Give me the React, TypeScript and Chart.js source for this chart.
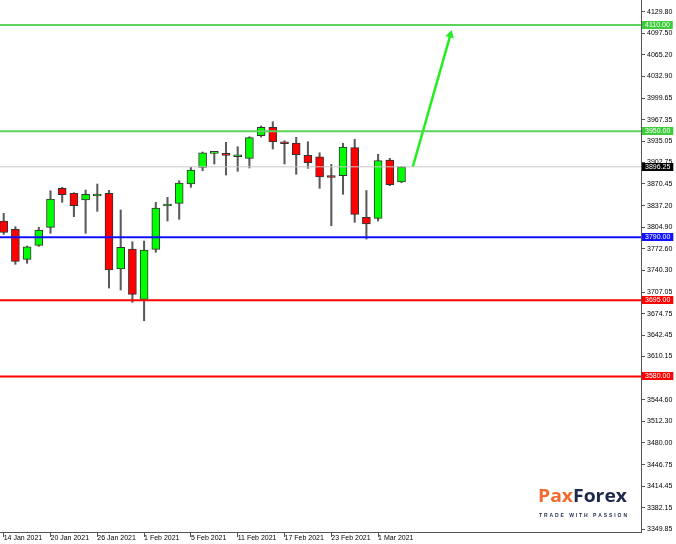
import React, { useEffect, useRef } from "react";
import { Chart, registerables } from "chart.js";
Chart.register(...registerables);

const dates = ["14 Jan 2021","15 Jan 2021","18 Jan 2021","19 Jan 2021","20 Jan 2021","21 Jan 2021","22 Jan 2021","25 Jan 2021","26 Jan 2021","27 Jan 2021","28 Jan 2021","29 Jan 2021","1 Feb 2021","2 Feb 2021","3 Feb 2021","4 Feb 2021","5 Feb 2021","8 Feb 2021","9 Feb 2021","10 Feb 2021","11 Feb 2021","12 Feb 2021","15 Feb 2021","16 Feb 2021","17 Feb 2021","18 Feb 2021","19 Feb 2021","22 Feb 2021","23 Feb 2021","24 Feb 2021","25 Feb 2021","26 Feb 2021","1 Mar 2021","2 Mar 2021","3 Mar 2021"];

const opens = [3814.5,3802.0,3756.7,3777.8,3805.0,3863.8,3856.3,3846.2,3852.2,3856.3,3742.1,3772.3,3696.4,3771.8,3837.1,3841.2,3870.3,3895.5,3916.6,3916.6,3911.5,3909.1,3943.2,3955.9,3933.7,3932.2,3913.6,3911.5,3883.1,3882.8,3925.1,3820.1,3818.6,3906.5,3873.3];
const highs = [3826.1,3805.9,3776.8,3805.0,3860.2,3865.3,3857.2,3861.3,3870.3,3860.8,3831.1,3783.3,3784.3,3842.7,3850.3,3875.3,3895.5,3918.6,3917.5,3933.2,3926.6,3941.7,3957.8,3964.3,3935.6,3940.8,3934.1,3917.5,3900.0,3931.7,3937.8,3860.5,3915.1,3909.1,3896.4];
const lows = [3794.4,3749.2,3750.7,3776.3,3795.9,3842.7,3821.0,3795.9,3829.1,3713.4,3710.4,3691.8,3664.1,3767.3,3814.5,3817.1,3865.3,3890.4,3900.5,3883.9,3889.5,3894.5,3941.2,3923.1,3900.5,3885.0,3894.0,3863.8,3807.4,3854.8,3812.5,3787.3,3814.5,3867.8,3872.3];
const closes = [3797.2,3753.7,3775.7,3800.9,3847.7,3854.2,3837.6,3854.8,3854.2,3740.6,3774.8,3703.9,3770.7,3834.1,3840.1,3871.8,3891.4,3917.5,3917.1,3913.6,3911.8,3940.2,3955.9,3934.1,3931.1,3914.5,3902.5,3880.9,3880.1,3926.1,3824.6,3810.0,3905.5,3869.3,3896.25];

const resistanceLevels = [4110.0, 3950.0];
const pivotLevels = [3790.0];
const supportLevels = [3695.0, 3580.0];
const currentPrice = 3896.25;

const xTickIndices = [0, 4, 8, 12, 16, 20, 24, 28, 32];
const yTickValues = [4129.80,4097.50,4065.20,4032.90,3999.65,3967.35,3935.05,3902.75,3870.45,3837.20,3804.90,3772.60,3740.30,3707.05,3674.75,3642.45,3610.15,3577.85,3544.60,3512.30,3480.00,3446.75,3414.45,3382.15,3349.85];

const arrowX = [34.96, 38.18];
const arrowY = [3896.0, 4095.4];

const X_MIN = -0.316;
const X_MAX = 54.47;
const Y_MIN = 3345.4;
const Y_MAX = 4147.9;

const FONT = '"Liberation Sans", Arial, sans-serif';

const GREEN_LINE = "#5ad45a";
const GREEN_BOX = "#3ccc3c";
const BLUE = "#1010ff";
const RED = "#ff0000";

const levelLine = (v: number, color: string, width: number) => ({
  type: "line" as const,
  data: [{ x: X_MIN, y: v }, { x: X_MAX, y: v }],
  borderColor: color,
  borderWidth: width,
  pointRadius: 0,
  order: 0,
});

const labelPlugin = {
  id: "levelLabels",
  afterDraw(chart: any) {
    const { ctx, chartArea } = chart;
    const y = chart.scales.y;
    const items: { v: number; bg: string }[] = [
      ...resistanceLevels.map((v) => ({ v, bg: GREEN_BOX })),
      { v: currentPrice, bg: "#000000" },
      ...pivotLevels.map((v) => ({ v, bg: BLUE })),
      ...supportLevels.map((v) => ({ v, bg: RED })),
    ];
    ctx.save();
    ctx.font = `7px ${FONT}`;
    ctx.textBaseline = "middle";
    ctx.textAlign = "left";
    for (const it of items) {
      const py = Math.round(y.getPixelForValue(it.v));
      const text = it.v.toFixed(2);
      const w = ctx.measureText(text).width + 6;
      ctx.fillStyle = it.bg;
      ctx.fillRect(chartArea.right + 1, py - 4, w, 8);
      ctx.fillStyle = "#ffffff";
      ctx.fillText(text, chartArea.right + 4, py + 0.5);
    }

    // watermark
    const left = 538;
    const base = 502;
    ctx.font = `bold 17px "Open Sans", ${FONT}`;
    ctx.textBaseline = "alphabetic";
    const w1 = ctx.measureText("Pax").width;
    const w2 = ctx.measureText("Forex").width;
    const sx = 89 / (w1 + w2);
    ctx.save();
    ctx.translate(left, base);
    ctx.scale(sx, 1);
    ctx.fillStyle = "#f26a2e";
    ctx.fillText("Pax", 0, 0);
    ctx.fillStyle = "#1b2a4a";
    ctx.fillText("Forex", w1, 0);
    ctx.restore();

    const tag = "TRADE WITH PASSION";
    ctx.font = `bold 5px ${FONT}`;
    ctx.fillStyle = "#1b2a4a";
    const chars = tag.split("");
    const total = chars.reduce((s, c) => s + ctx.measureText(c).width, 0);
    const gap = (88 - total) / (chars.length - 1);
    let cx = 539;
    for (const c of chars) {
      ctx.fillText(c, cx, 517);
      cx += ctx.measureText(c).width + gap;
    }
    ctx.restore();
  },
};

export default function App() {
  const ref = useRef<HTMLCanvasElement | null>(null);
  useEffect(() => {
    if (!ref.current) return;
    Chart.defaults.font.family = FONT;
    const bodyColors = opens.map((o, i) => (closes[i] >= o ? "#00ff00" : "#ff0000"));
    const chart = new Chart(ref.current, {
      type: "bar",
      data: {
        datasets: [
          ...resistanceLevels.map((v) => levelLine(v, GREEN_LINE, 2)),
          levelLine(currentPrice, "#c8c8c8", 1),
          ...pivotLevels.map((v) => levelLine(v, BLUE, 2)),
          ...supportLevels.map((v) => levelLine(v, RED, 2)),
          {
            type: "line" as const,
            data: arrowX.map((x, i) => ({ x, y: arrowY[i] })),
            borderColor: "#22ee22",
            backgroundColor: "#22ee22",
            borderWidth: 2.5,
            pointRadius: [0, 5],
            pointStyle: "triangle",
            pointRotation: 16,
            pointBorderWidth: 0,
            order: 0,
          } as any,
          {
            type: "bar" as const,
            data: dates.map((_, i) => ({ x: i, y: [opens[i], closes[i]] })),
            backgroundColor: bodyColors,
            borderColor: "#333333",
            borderWidth: 1,
            borderSkipped: false,
            barThickness: 8,
            minBarLength: 2,
            grouped: false,
            order: 1,
          } as any,
          {
            type: "bar" as const,
            data: dates.map((_, i) => ({ x: i, y: [lows[i], highs[i]] })),
            backgroundColor: "#5a5a5a",
            borderWidth: 0,
            barThickness: 1.4,
            grouped: false,
            order: 2,
          } as any,
        ],
      },
      options: {
        responsive: false,
        animation: false,
        layout: { padding: 0, autoPadding: false },
        plugins: { legend: { display: false }, tooltip: { enabled: false } },
        scales: {
          x: {
            type: "linear",
            min: X_MIN,
            max: X_MAX,
            offset: false,
            afterBuildTicks: (s: any) => {
              s.ticks = xTickIndices.map((v) => ({ value: v }));
            },
            afterFit: (s: any) => {
              s.height = 12;
              s.paddingLeft = 0;
              s.paddingRight = 0;
            },
            ticks: {
              autoSkip: false,
              maxRotation: 0,
              minRotation: 0,
              align: "start",
              padding: -3,
              color: "#000",
              font: { size: 7, family: FONT },
              callback: (v: any) => dates[Math.round(Number(v))] ?? "",
            },
            grid: { drawOnChartArea: false, drawTicks: true, tickLength: 5, color: "#555", offset: false },
            border: { display: true, color: "#555", width: 1 },
          },
          y: {
            type: "linear",
            position: "right",
            min: Y_MIN,
            max: Y_MAX,
            afterBuildTicks: (s: any) => {
              s.ticks = yTickValues.map((v) => ({ value: v }));
            },
            afterFit: (s: any) => {
              s.width = 35;
              s.paddingTop = 0;
              s.paddingBottom = 0;
            },
            ticks: {
              autoSkip: false,
              padding: 2,
              color: "#000",
              font: { size: 7, family: FONT },
              callback: (v: any) => Number(v).toFixed(2),
            },
            grid: { drawOnChartArea: false, drawTicks: true, tickLength: 4, color: "#555" },
            border: { display: true, color: "#555", width: 1 },
          },
        },
      } as any,
      plugins: [labelPlugin],
    });
    return () => chart.destroy();
  }, []);
  return (
    <div style={{ position: "absolute", left: 0, top: 0, width: 676, height: 544, background: "#fff" }}>
      <canvas ref={ref} width={676} height={544} />
    </div>
  );
}
